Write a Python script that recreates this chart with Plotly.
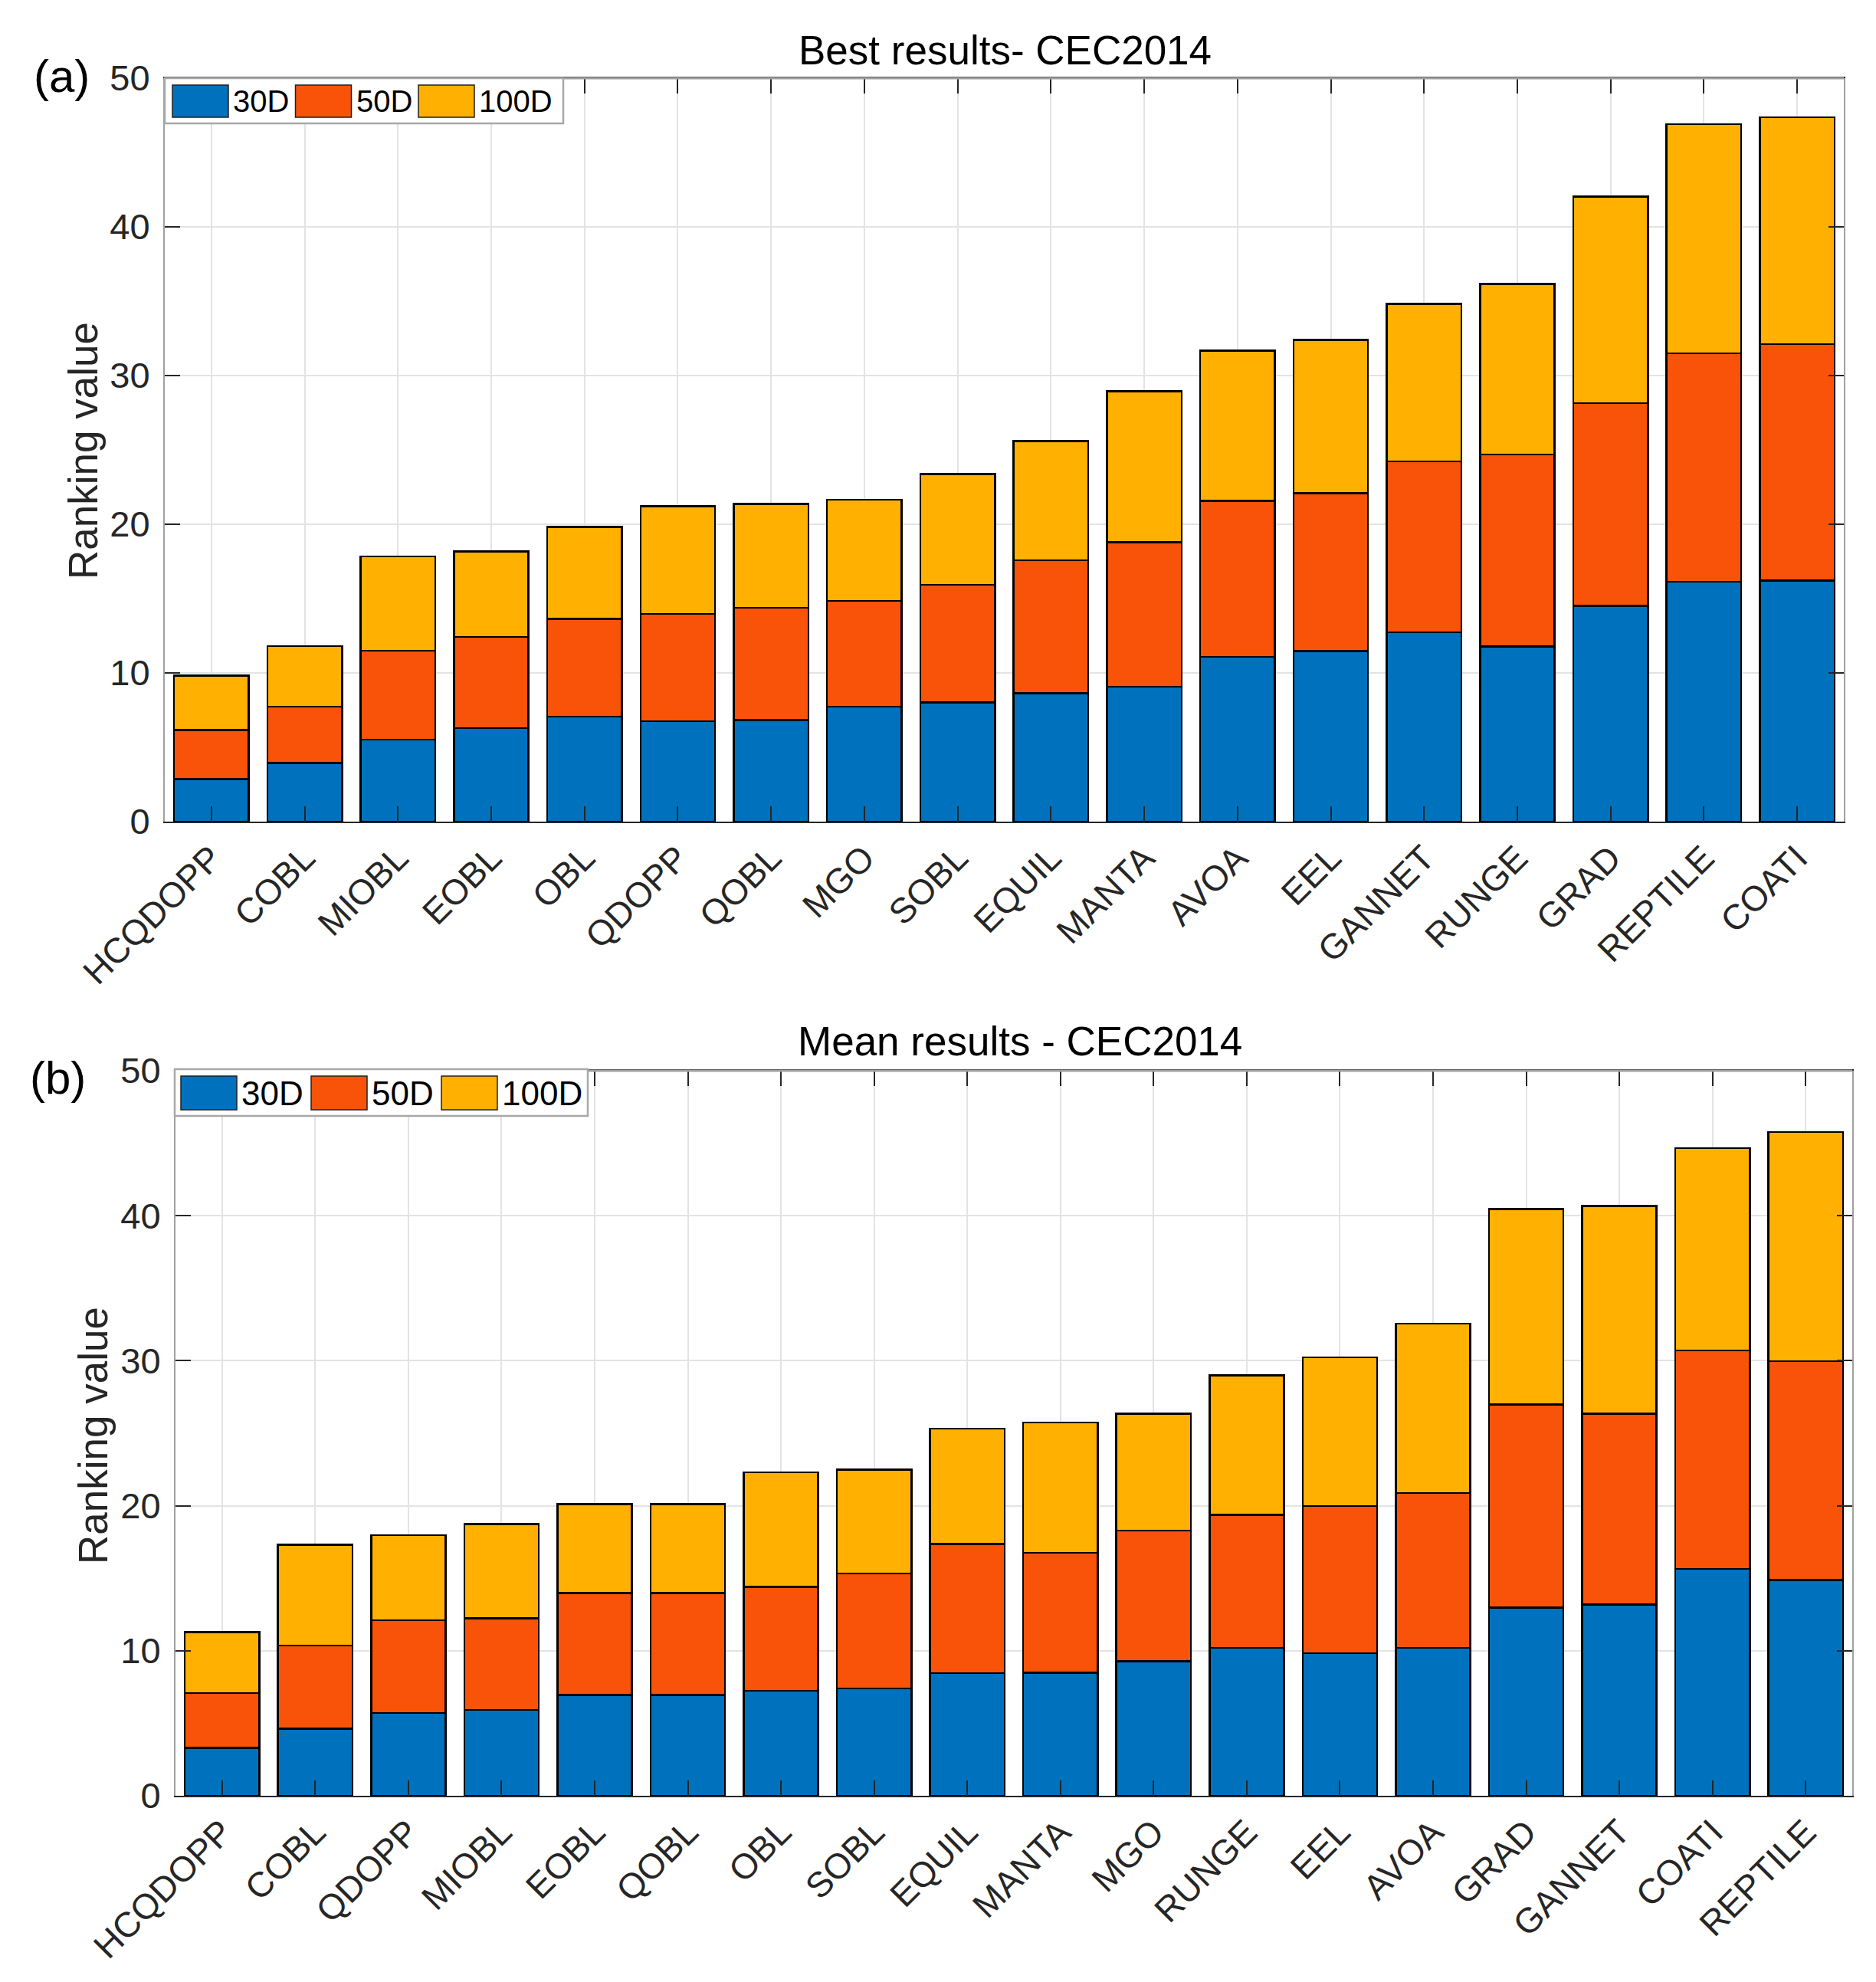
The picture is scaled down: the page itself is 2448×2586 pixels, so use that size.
import plotly.graph_objects as go

# ---- data (ranking values, stacked per dimension) ----
series_names = ["30D", "50D", "100D"]
series_colors = ["#0072BD", "#F85309", "#FFB000"]

best_algos = ["HCQDOPP", "COBL", "MIOBL", "EOBL", "OBL", "QDOPP", "QOBL", "MGO", "SOBL",
              "EQUIL", "MANTA", "AVOA", "EEL", "GANNET", "RUNGE", "GRAD", "REPTILE", "COATI"]
best_30d = [2.86, 3.94, 5.52, 6.28, 7.07, 6.74, 6.84, 7.72, 8.02,
            8.64, 9.07, 11.07, 11.46, 12.73, 11.79, 14.50, 16.13, 16.20]
best_50d = [3.29, 3.78, 5.98, 6.14, 6.57, 7.23, 7.55, 7.13, 7.92,
            8.94, 9.73, 10.49, 10.64, 11.50, 12.91, 13.64, 15.37, 15.92]
best_100d = [3.68, 4.08, 6.34, 5.75, 6.18, 7.23, 6.97, 6.81, 7.43,
             8.02, 10.15, 10.12, 10.31, 10.60, 11.47, 13.89, 15.41, 15.26]

mean_algos = ["HCQDOPP", "COBL", "QDOPP", "MIOBL", "EOBL", "QOBL", "OBL", "SOBL", "EQUIL",
              "MANTA", "MGO", "RUNGE", "EEL", "AVOA", "GRAD", "GANNET", "COATI", "REPTILE"]
mean_30d = [3.30, 4.62, 5.70, 5.93, 6.94, 6.94, 7.25, 7.41, 8.46,
            8.49, 9.27, 10.21, 9.84, 10.21, 12.97, 13.18, 15.64, 14.89]
mean_50d = [3.78, 5.73, 6.40, 6.30, 7.05, 7.05, 7.14, 7.92, 8.89,
            8.26, 9.03, 9.17, 10.14, 10.68, 14.02, 13.17, 15.06, 15.07]
mean_100d = [4.21, 6.97, 5.86, 6.51, 6.13, 6.13, 7.92, 7.15, 7.96,
             9.00, 8.05, 9.60, 10.25, 11.66, 13.48, 14.32, 13.95, 15.80]

y_ticks = [0, 10, 20, 30, 40, 50]

W, H = 2448, 2586
FONT = "Liberation Sans, Arial, sans-serif"


def px(x):
    return x / W


def py(y):
    return 1 - y / H


fig = go.Figure()

panels = [
    ("x", "y", best_algos, [best_30d, best_50d, best_100d]),
    ("x2", "y2", mean_algos, [mean_30d, mean_50d, mean_100d]),
]
for xa, ya, algos, vals in panels:
    for name, color, v in zip(series_names, series_colors, vals):
        fig.add_trace(go.Bar(
            x=algos, y=v, name=name, xaxis=xa, yaxis=ya,
            marker=dict(color=color, line=dict(color="black", width=2.5)),
            showlegend=False,
        ))

axis_x = dict(
    type="category", range=[-0.5, 17.5], tickangle=-45, automargin=False,
    ticks="inside", ticklen=20, tickwidth=2, tickcolor="#262626",
    showline=True, linecolor="#262626", linewidth=2, mirror="ticks",
    showgrid=True, gridcolor="#e3e3e3", gridwidth=2,
    tickfont=dict(family=FONT, size=46, color="#262626"),
)
axis_y = dict(
    range=[0, 50], tickvals=y_ticks, automargin=False,
    ticks="inside", ticklen=20, tickwidth=2, tickcolor="#262626",
    showline=True, linecolor="#a0a0a0", linewidth=2, mirror="ticks",
    showgrid=True, gridcolor="#e3e3e3", gridwidth=2, zeroline=False,
    tickfont=dict(family=FONT, size=47, color="#262626"), ticklabelstandoff=8,
)

fig.update_layout(
    width=W, height=H, autosize=False,
    margin=dict(l=0, r=0, t=0, b=0),
    paper_bgcolor="white", plot_bgcolor="white",
    barmode="stack", bargap=0.2,
    xaxis=dict(axis_x, domain=[px(207), px(2398)], anchor="y"),
    yaxis=dict(axis_y, domain=[py(1064), py(94)], anchor="x"),
    xaxis2=dict(axis_x, domain=[px(221), px(2409)], anchor="y2"),
    yaxis2=dict(axis_y, domain=[py(2335), py(1389)], anchor="x2"),
)

shapes = []
annotations = []

# top edge of each axes box in light gray (MATLAB look)
for x0, x1, y0 in [(207, 2398, 94), (221, 2409, 1389)]:
    shapes.append(dict(type="line", xref="paper", yref="paper", layer="above",
                       x0=px(x0), x1=px(x1), y0=py(y0), y1=py(y0),
                       line=dict(color="#a0a0a0", width=3)))


def add_legend(box, sw_x0, pitch, sw_w, sw_top, sw_bot, fsize):
    bx0, by0, bx1, by1 = box
    shapes.append(dict(type="rect", xref="paper", yref="paper", layer="above",
                       x0=px(bx0), x1=px(bx1), y0=py(by1), y1=py(by0),
                       fillcolor="white", line=dict(color="#a8a8a8", width=2.5)))
    for i, (name, color) in enumerate(zip(series_names, series_colors)):
        sx = sw_x0 + i * pitch
        shapes.append(dict(type="rect", xref="paper", yref="paper", layer="above",
                           x0=px(sx), x1=px(sx + sw_w), y0=py(sw_bot), y1=py(sw_top),
                           fillcolor=color, line=dict(color="#202020", width=1.5)))
        annotations.append(dict(text=name, xref="paper", yref="paper",
                                x=px(sx + sw_w + 4), y=py((sw_top + sw_bot) / 2),
                                xanchor="left", yanchor="middle", showarrow=False,
                                font=dict(family=FONT, size=fsize, color="black")))


add_legend((207, 94, 727, 153), 217, 160.5, 73, 103, 145, 40)
add_legend((220, 1387, 759, 1448), 228, 170, 73, 1396, 1440, 44)

# titles, panel letters and y labels
for text, x, y in [("Best results- CEC2014", 1303, 57), ("Mean results - CEC2014", 1323, 1350)]:
    annotations.append(dict(text=text, xref="paper", yref="paper", x=px(x), y=py(y),
                            xanchor="center", yanchor="middle", showarrow=False,
                            font=dict(family=FONT, size=53, color="black")))
for text, x, y in [("(a)", 72, 92), ("(b)", 67, 1398)]:
    annotations.append(dict(text=text, xref="paper", yref="paper", x=px(x), y=py(y),
                            xanchor="center", yanchor="middle", showarrow=False,
                            font=dict(family=FONT, size=60, color="black")))
for x, y in [(100, 580), (113, 1865)]:
    annotations.append(dict(text="Ranking value", xref="paper", yref="paper", x=px(x), y=py(y),
                            xanchor="center", yanchor="middle", textangle=-90, showarrow=False,
                            font=dict(family=FONT, size=53, color="#262626")))

fig.update_layout(shapes=shapes, annotations=annotations)

fig.write_html("out.html")
